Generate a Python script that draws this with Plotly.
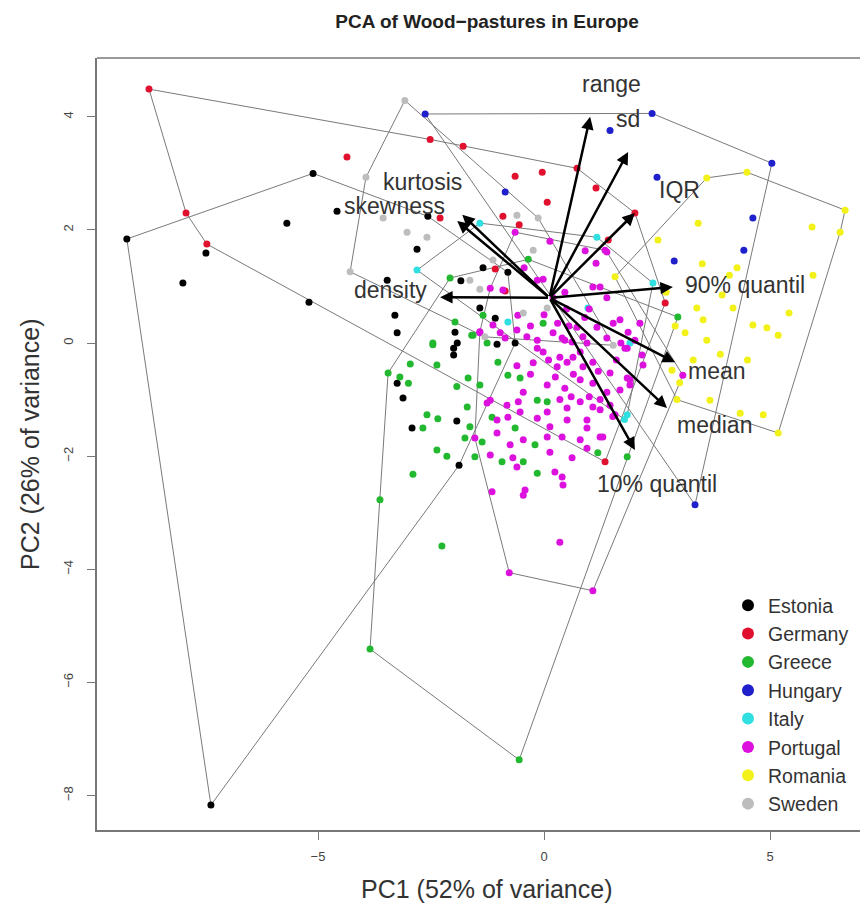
import plotly.graph_objects as go

countries = ["Estonia", "Germany", "Greece", "Hungary", "Italy", "Portugal", "Romania", "Sweden"]
colors = ["#000000", "#E0102E", "#22B830", "#1F1FCC", "#30E0E0", "#DD11DD", "#F2F21A", "#BDBDBD"]

estonia_x = [-5.11, -9.23, -4.58, -5.69, -7.48, -7.99, -5.20, -7.37, -2.57, -2.81, -3.47, -3.30, -3.25, -1.84, -1.35, -0.80, -1.42, -1.08, -1.97, -1.92, -2.00, -2.00, -1.04, -0.64, -3.25, -3.12, -2.92, -1.93, -1.88]
estonia_y = [3.00, 1.84, 2.33, 2.12, 1.59, 1.06, 0.72, -8.17, 2.24, 1.66, 1.11, 0.49, 0.18, 1.10, 1.33, 1.25, 0.62, 0.44, 0.19, 0.00, -0.09, -0.21, -0.02, 0.00, -0.71, -0.97, -1.50, -1.38, -2.16]

germany_x = [-8.74, -4.36, -7.92, -7.46, -2.52, -1.79, -0.64, -0.04, 0.73, 1.15, 0.07, -0.91, -0.55, -2.30, 1.42, 2.01, 2.68, -1.08, 1.35, -0.86]
germany_y = [4.49, 3.29, 2.30, 1.75, 3.60, 3.48, 2.95, 3.02, 3.09, 2.74, 2.49, 2.24, 2.09, 2.21, 1.82, 2.30, 0.71, 1.31, -2.10, 0.92]

greece_x = [-2.46, -2.96, -3.19, -3.00, -2.37, -1.60, -1.68, -1.93, -2.59, -2.35, -2.68, -1.70, -1.64, -1.75, -1.37, -2.37, -2.15, -1.53, -2.90, -3.63, -2.26, -1.42, -1.02, -0.80, -0.53, -1.15, -0.64, -0.15, 0.07, -0.93, -0.46, -0.15, -0.20, 1.84, 1.19, -1.26, -3.85, -0.55, -3.45, -2.08, -0.35, -1.97, -1.35, -0.02, -2.46, -1.57, 2.96]
greece_y = [-0.03, -0.37, -0.60, -0.71, -0.39, 0.14, -0.62, -0.77, -1.27, -1.34, -1.50, -1.13, -1.48, -1.68, -1.75, -1.89, -2.00, -2.01, -2.32, -2.77, -3.59, -0.74, -0.34, -0.57, -0.62, -1.31, -1.50, -1.01, -1.04, -2.10, -2.10, -2.30, -1.80, -2.01, -1.94, 0.00, -5.41, -7.37, -0.53, 1.15, 1.48, 0.37, 0.49, 0.35, 0.00, 0.14, 0.46]

hungary_x = [-2.63, 1.46, 2.39, 5.04, 2.50, 4.62, 4.42, 2.88, -0.86, 3.34]
hungary_y = [4.05, 3.76, 4.06, 3.18, 2.93, 2.21, 1.64, 1.45, 2.67, -2.86]

italy_x = [-1.42, -2.81, 1.17, 2.41, 0.97, -0.80, 1.84, 1.90, 1.78]
italy_y = [2.12, 1.29, 1.87, 1.06, 0.62, 0.37, -1.27, 0.00, -1.35]

portugal_x = [-0.64, 0.13, 0.91, 1.39, 1.15, -0.15, -0.02, -0.44, -0.91, -1.19, 0.46, 1.08, 1.24, 1.39, 1.68, 2.12, -1.13, -0.58, -1.42, -0.97, -0.60, 0.20, 0.46, 0.86, 1.53, 1.86, 2.01, 0.73, 1.17, -0.15, -0.38, 1.35,
              -1.42, -0.86, -0.15, -0.02, 0.40, 0.62, 0.35, 0.51, 0.64, 0.80, 0.29, 0.86, 1.08, 1.39, 1.84, 2.17, 2.19, 1.46, 1.84, -0.24, -0.46, 0.07, 0.46, 0.80, 1.08, 1.39, 0.80, 1.08, 1.46, 0.51, 0.07, -0.15, -0.53, -0.80, -1.04, -1.19, -0.82, -0.57, 0.13, 0.51, 0.95, 1.24, 1.24, 0.80, 0.95, 0.40, 0.07, -0.46, -0.75, -1.04, -1.19, -0.69, -0.60, 0.13, 0.62, 0.24, 0.40, 0.42, -0.42, -0.46, -1.15, -1.53, -1.26, 0.35, 0.95, 1.57, 1.68, 1.90,
              1.79, 1.90, 1.24, 1.30, 1.52, 3.07, -0.77, 1.08,
              0.30, 0.55, 0.90, 0.10, 0.65, 1.20, 0.95, 0.25, 1.00, 0.60, 0.35, -0.30, -0.60, 1.60, 1.70, 0.00, -0.30, 0.50, 1.00, 0.20]
portugal_y = [1.96, 1.80, 1.63, 1.61, 1.41, 1.11, 1.13, 1.33, 0.94, 0.97, 0.90, 0.99, 0.99, 0.80, 0.41, 0.35, 0.32, 0.49, 0.18, 0.18, 0.23, 0.18, 0.05, 0.11, 0.35, 0.19, 0.05, 0.28, 0.28, 0.05, 0.11, 1.64,
              0.20, 0.09, -0.09, -0.16, 0.09, 0.02, -0.25, -0.34, -0.25, -0.16, -0.42, -0.42, -0.34, 0.09, -0.09, -0.21, -0.39, -0.53, -0.62, -0.35, -0.87, -0.74, -0.80, -0.65, -0.71, -0.87, -1.04, -1.13, -1.10, -1.15, -1.22, -1.33, -1.22, -1.31, -1.36, -1.01, -1.10, -1.04, -1.48, -1.36, -1.36, -1.18, -1.66, -1.71, -1.86, -1.66, -1.66, -1.71, -1.80, -1.59, -1.98, -2.03, -2.19, -1.93, -2.03, -2.28, -2.37, -2.51, -2.60, -2.69, -2.63, -1.68, -1.06, -3.52, -1.50, -1.27, -0.83, -0.74,
              -0.09, -0.65, -1.00, -1.66, -1.30, -0.57, -4.06, -4.38,
              0.35, 0.30, 0.45, -0.30, -0.55, -0.50, 0.00, -0.60, -0.95, -0.95, -1.00, -0.55, -0.40, -0.30, 0.00, 0.50, 0.30, 0.60, 0.60, 0.80]

romania_x = [3.60, 4.49, 6.66, 3.41, 5.93, 6.55, 2.52, 4.27, 5.95, 3.94, 3.38, 3.52, 4.18, 4.62, 4.93, 5.18, 5.42, 3.60, 3.12, 1.57, 3.67, 4.34, 4.85, 2.83, 3.00, 2.94, 5.18, 2.90, 3.90, 4.50, 3.30, 4.10, 3.50, 2.70]
romania_y = [2.92, 3.02, 2.35, 2.12, 2.05, 1.96, 1.82, 1.33, 1.20, 0.85, 0.62, 0.41, 0.62, 0.32, 0.27, 0.14, 0.53, 0.05, 0.18, 1.17, -1.01, -1.24, -1.27, -0.48, -0.70, -1.00, -1.59, 0.30, -0.20, -0.30, -0.30, 1.20, 1.40, 0.90]

sweden_x = [-3.08, -3.94, -3.56, -4.29, -0.60, -0.13, -3.03, -2.59, -0.24, -1.64, -1.13, -1.42, -0.46, 0.07, -1.31, 1.53]
sweden_y = [4.29, 2.93, 2.21, 1.26, 2.26, 2.21, 1.96, 1.87, 1.64, 1.11, 1.47, 0.95, 0.53, 0.62, 0.11, -0.04]

series_x = [estonia_x, germany_x, greece_x, hungary_x, italy_x, portugal_x, romania_x, sweden_x]
series_y = [estonia_y, germany_y, greece_y, hungary_y, italy_y, portugal_y, romania_y, sweden_y]

# variable loadings (arrow tips) and label positions
var_names = ["range", "sd", "IQR", "90% quantil", "mean", "median", "10% quantil", "density", "kurtosis", "skewness"]
var_x = [1.02, 1.86, 2.01, 2.85, 2.90, 2.72, 2.01, -2.30, -1.81, -1.92]
var_y = [4.00, 3.38, 2.30, 0.99, -0.34, -1.15, -1.89, 0.81, 2.27, 2.16]
lab_x = [1.50, 1.86, 3.00, 4.45, 3.83, 3.78, 2.50, -3.40, -2.70, -3.30]
lab_y = [4.58, 3.96, 2.70, 1.03, -0.50, -1.45, -2.50, 0.94, 2.84, 2.42]
origin = (0.12, 0.80)

FONT = "Liberation Sans, Arial, sans-serif"

# page layout (the page body adds an 8px margin on the left/top)
W, H = 852, 895
ML, MT, MB = 89, 50, 73
PW = W - ML          # plot width in px
PH = H - MT - MB     # plot height in px


def hull(xs, ys):
    pts = sorted(set(zip(xs, ys)))
    if len(pts) < 3:
        return pts

    def cross(o, a, b):
        return (a[0] - o[0]) * (b[1] - o[1]) - (a[1] - o[1]) * (b[0] - o[0])
    lower, upper = [], []
    for p in pts:
        while len(lower) >= 2 and cross(lower[-2], lower[-1], p) <= 0:
            lower.pop()
        lower.append(p)
    for p in reversed(pts):
        while len(upper) >= 2 and cross(upper[-2], upper[-1], p) <= 0:
            upper.pop()
        upper.append(p)
    h = lower[:-1] + upper[:-1]
    return h + [h[0]]


fig = go.Figure()
for name, xs, ys in zip(countries, series_x, series_y):
    h = hull(xs, ys)
    fig.add_trace(go.Scatter(x=[p[0] for p in h], y=[p[1] for p in h], mode="lines",
                             line=dict(color="#7a7a7a", width=1), showlegend=False, hoverinfo="skip"))
for name, col, xs, ys in zip(countries, colors, series_x, series_y):
    fig.add_trace(go.Scatter(x=xs, y=ys, mode="markers", name=name,
                             marker=dict(color=col, size=7, line=dict(width=0))))

annotations = []
for n, tx, ty, lx, ly in zip(var_names, var_x, var_y, lab_x, lab_y):
    annotations.append(dict(x=tx, y=ty, ax=origin[0], ay=origin[1], xref="x", yref="y", axref="x", ayref="y",
                            showarrow=True, arrowhead=2, arrowsize=1, arrowwidth=2.5, arrowcolor="#000000",
                            standoff=0, startstandoff=0, text=""))
    annotations.append(dict(x=lx, y=ly, xref="x", yref="y", text=n, showarrow=False,
                            font=dict(family=FONT, size=23, color="#333333")))

annotations.append(dict(x=(487 - 97) / PW, y=(830 - 889) / PH, xref="paper", yref="paper",
                        text="PC1 (52% of variance)", showarrow=False, xanchor="center", yanchor="middle",
                        font=dict(family=FONT, size=25, color="#333333")))
annotations.append(dict(x=(30 - 97) / PW, y=(830 - 444) / PH, xref="paper", yref="paper",
                        text="PC2 (26% of variance)", showarrow=False, textangle=-90,
                        xanchor="center", yanchor="middle",
                        font=dict(family=FONT, size=25, color="#333333")))

fig.update_layout(
    width=W, height=H,
    margin=dict(l=ML, r=0, t=MT, b=MB, autoexpand=False),
    paper_bgcolor="white", plot_bgcolor="white",
    title=dict(text="<b>PCA of Wood\u2212pastures in Europe</b>", x=(487 - 8) / W, xref="container", xanchor="center",
               y=1 - (21 - 8) / H, yref="container", yanchor="middle",
               font=dict(family=FONT, size=19, color="#222222")),
    annotations=annotations,
    legend=dict(x=(728 - 97) / PW, y=(830 - 586) / PH, xanchor="left", yanchor="top",
                bgcolor="rgba(0,0,0,0)", font=dict(family=FONT, size=19.5, color="#333333"),
                itemsizing="constant", tracegroupgap=0),
    shapes=[dict(type="line", xref="paper", yref="paper", x0=0, x1=1, y0=1, y1=1,
                 line=dict(color="#777777", width=1.5))],
    showlegend=True,
)
fig.update_xaxes(range=[-9.89, 6.99], tickvals=[-5, 0, 5], ticks="outside", ticklen=8, tickcolor="#777777",
                 showline=True, linecolor="#777777", linewidth=1.5, showgrid=False, zeroline=False,
                 automargin=False,
                 tickfont=dict(family=FONT, size=13, color="#444444"), ticklabelstandoff=6)
fig.update_yaxes(range=[-8.61, 5.04], tickvals=[-8, -6, -4, -2, 0, 2, 4], ticks="outside", ticklen=8,
                 tickcolor="#777777", tickangle=-90, automargin=False,
                 showline=True, linecolor="#777777", linewidth=1.5, showgrid=False, zeroline=False,
                 tickfont=dict(family=FONT, size=13, color="#444444"), ticklabelstandoff=9)

fig.write_html("out.html")
